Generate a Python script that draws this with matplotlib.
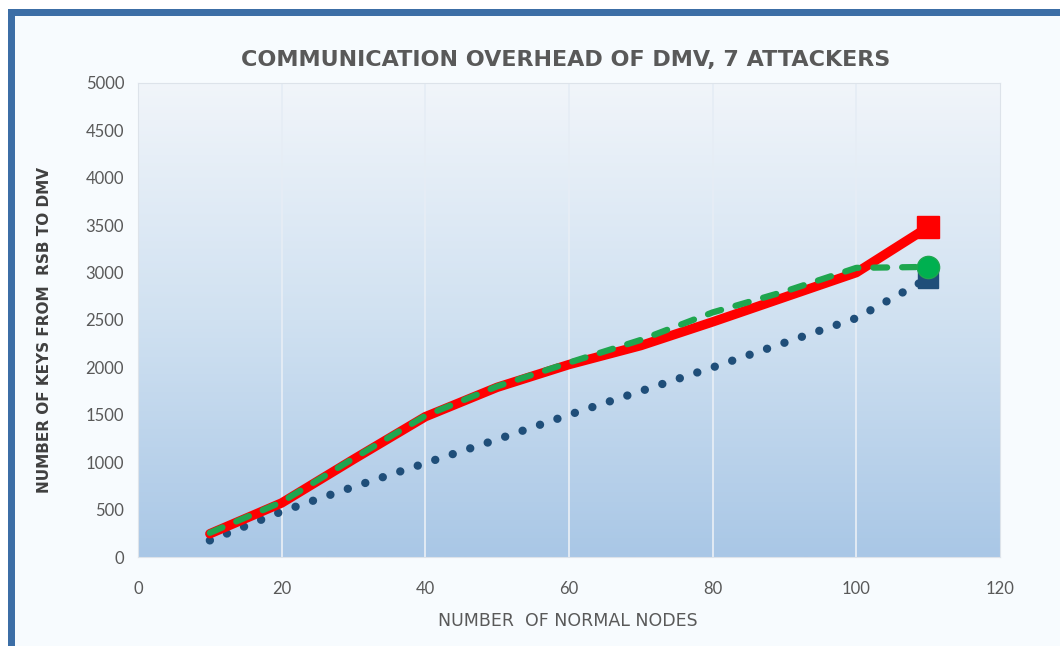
import numpy as np
import matplotlib
matplotlib.use("Agg")
import matplotlib.pyplot as plt
from matplotlib.patches import Rectangle
from matplotlib.colors import LinearSegmentedColormap

# datos
nodos = [10, 20, 30, 40, 50, 60, 70, 80, 90, 100, 110]
rojo = [245, 570, 1030, 1480, 1790, 2030, 2230, 2480, 2740, 3000, 3480]
verde = [255, 580, 1040, 1490, 1800, 2050, 2290, 2580, 2800, 3050, 3060]
azul = [175, 480, 740, 990, 1240, 1500, 1750, 2000, 2260, 2520, 2940]

x_ticks = [0, 20, 40, 60, 80, 100, 120]
y_ticks = [0, 500, 1000, 1500, 2000, 2500, 3000, 3500, 4000, 4500, 5000]

gris = "#595959"
tick_font = ["Lato", "DejaVu Sans"]

fig = plt.figure(figsize=(10.6, 6.46), dpi=100)
fig.patch.set_facecolor("white")

# fondo del area del grafico y borde azul (izquierda y arriba)
fig.add_artist(Rectangle((8 / 1060, 0), 1 - 8 / 1060, 1 - 9 / 646,
                         transform=fig.transFigure, facecolor="#f7fbfe",
                         edgecolor="none", zorder=-10))
fig.add_artist(Rectangle((8 / 1060, 1 - 16 / 646), 1 - 8 / 1060, 7 / 646,
                         transform=fig.transFigure, facecolor="#3c6ea6",
                         edgecolor="none", zorder=-9))
fig.add_artist(Rectangle((8 / 1060, 0), 7 / 1060, 1 - 9 / 646,
                         transform=fig.transFigure, facecolor="#3c6ea6",
                         edgecolor="none", zorder=-9))

ax = fig.add_axes([138 / 1060, 1 - 557 / 646, (1000 - 138) / 1060, (557 - 83) / 646])
ax.set_facecolor("none")

# degradado del area de trazado
cmap = LinearSegmentedColormap.from_list("fondo", ["#f1f5fa", "#d0e1f1", "#a9c7e6"])
grad = np.linspace(0, 1, 256).reshape(-1, 1)
ax.imshow(grad, cmap=cmap, extent=[0, 120, 0, 5000], aspect="auto",
          origin="upper", zorder=0)

for xv in x_ticks[1:-1]:
    ax.axvline(xv, color="#e6edf5", lw=1.3, zorder=1)

ax.plot(nodos, azul, color="#1f4e79", lw=6, linestyle=(0, (0.01, 2.2)),
        dash_capstyle="round", zorder=3,
        marker="s", markevery=[-1], markersize=14, markeredgecolor="#1f4e79")
ax.plot(nodos, rojo, color="#ff0000", lw=6.8, solid_joinstyle="round",
        solid_capstyle="round", zorder=4,
        marker="s", markevery=[-1], markersize=16, markeredgecolor="#ff0000")
ax.plot(nodos, verde, color="#1fa64f", lw=4.5, linestyle=(0, (2.2, 2.4)),
        dash_capstyle="round", zorder=5,
        marker="o", markevery=[-1], markersize=16, markeredgecolor="#1fa64f",
        markerfacecolor="#00b050")

ax.set_xlim(0, 120)
ax.set_ylim(0, 5000)
ax.set_xticks(x_ticks)
ax.set_yticks(y_ticks)
ax.tick_params(length=0, colors=gris, labelsize=12)
ax.tick_params(axis="x", pad=17)
ax.tick_params(axis="y", pad=10)
for lbl in ax.get_xticklabels() + ax.get_yticklabels():
    lbl.set_family(tick_font)

for sp in ax.spines.values():
    sp.set_color("#dde3ea")
    sp.set_linewidth(0.8)

fig.text(566 / 1060, 1 - 60 / 646, "COMMUNICATION OVERHEAD OF DMV, 7 ATTACKERS",
         ha="center", va="center", fontsize=16, fontweight="semibold", color=gris)
fig.text(568 / 1060, 1 - 621 / 646, "NUMBER  OF NORMAL NODES",
         ha="center", va="center", fontsize=12.5, color=gris)
fig.text(45 / 1060, 1 - 330 / 646, "NUMBER OF KEYS FROM  RSB TO DMV",
         ha="center", va="center", rotation=90, fontsize=11, fontweight="bold",
         color="#404040")

fig.savefig("out.png", dpi=100, facecolor=fig.get_facecolor())
